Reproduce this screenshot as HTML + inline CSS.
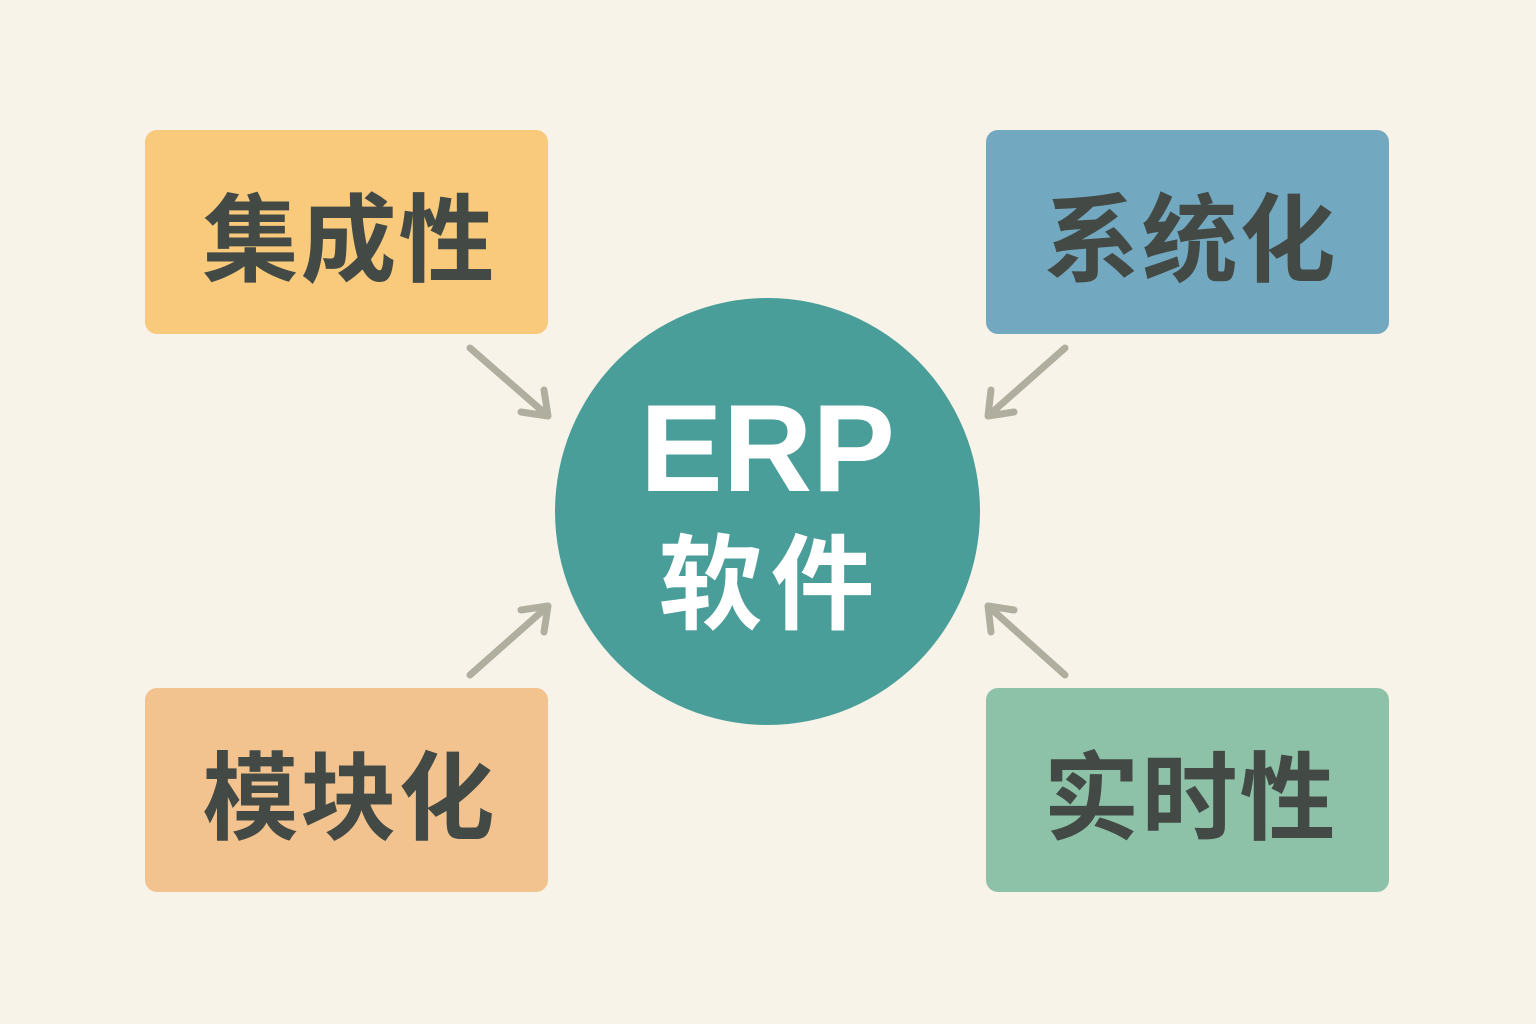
<!DOCTYPE html>
<html><head><meta charset="utf-8"><style>
body{margin:0;width:1536px;height:1024px;background:#f8f3e8;position:relative;overflow:hidden;font-family:"Liberation Sans","Noto Sans CJK SC",sans-serif;}
.b{position:absolute;width:403px;height:204px;border-radius:12px;display:flex;align-items:center;justify-content:center;font-size:96px;font-weight:bold;color:#434a45;letter-spacing:2px;font-family:"Noto Sans CJK SC",sans-serif;padding-left:6px;box-sizing:border-box;}
.c{position:absolute;left:555px;top:298px;width:425px;height:427px;border-radius:50%;background:#4a9e9a;color:#fff;text-align:center;font-weight:bold;}
</style></head><body>
<div class="b" style="left:145px;top:130px;background:#f9c97c">集成性</div>
<div class="b" style="left:986px;top:130px;background:#72a8c0">系统化</div>
<div class="b" style="left:145px;top:688px;background:#f3c38f">模块化</div>
<div class="b" style="left:986px;top:688px;background:#8dc2a8">实时性</div>
<div class="c">
<div style="position:absolute;left:0;right:0;top:86px;font-size:124px;line-height:130px;font-family:'Liberation Sans',sans-serif">ERP</div>
<div style="position:absolute;left:6px;right:0;top:218px;font-size:104px;line-height:120px;font-family:'Noto Sans CJK SC',sans-serif;letter-spacing:8px">软件</div>
</div>
<svg width="1536" height="1024" style="position:absolute;left:0;top:0">
<g stroke="#b0ae9f" stroke-width="7" fill="none" stroke-linecap="round" stroke-linejoin="round">
<path d="M470 348 L548 416 M548 416 L521 412 M548 416 L544 390"/>
<path d="M1065 348 L988 416 M988 416 L1014 412 M988 416 L991 390"/>
<path d="M470 675 L548 606 M548 606 L521 610 M548 606 L544 632"/>
<path d="M1065 675 L988 606 M988 606 L1014 610 M988 606 L991 632"/>
</g></svg>
</body></html>
